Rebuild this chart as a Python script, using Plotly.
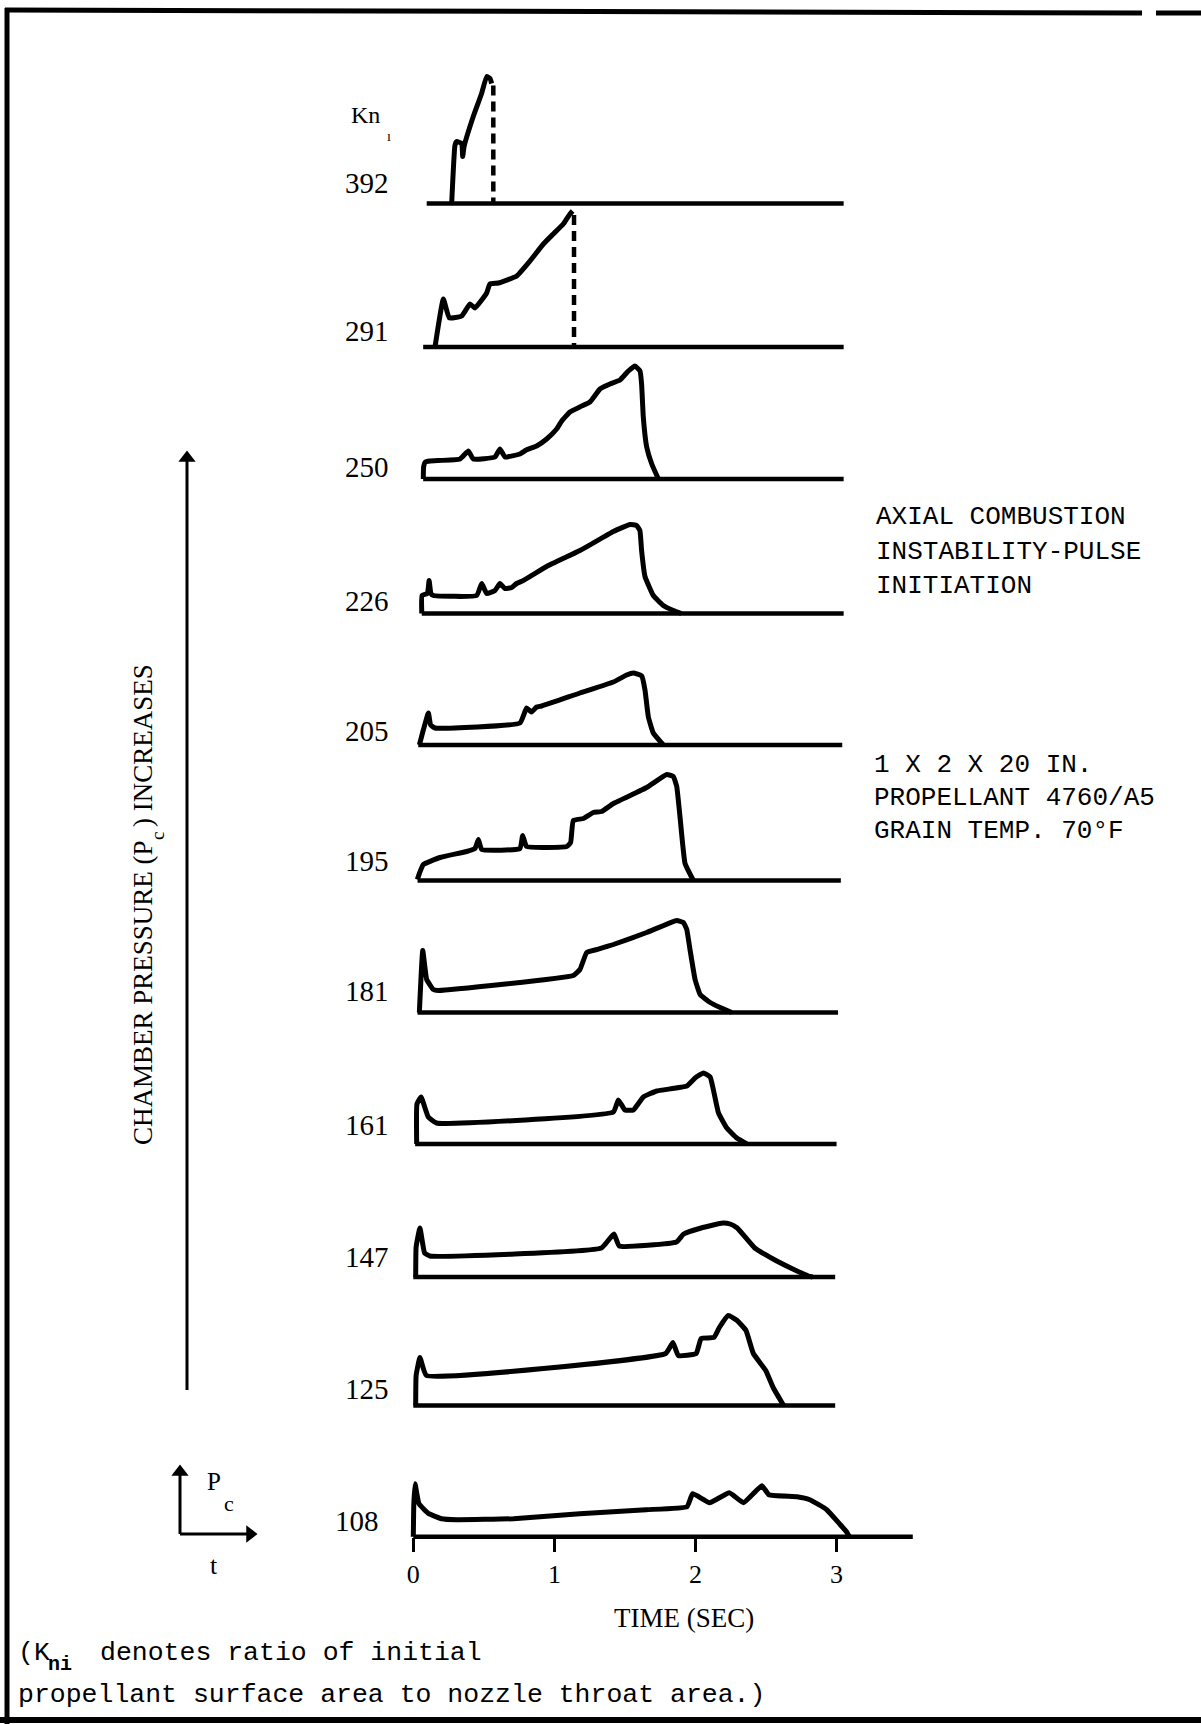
import plotly.graph_objects as go

W, H = 1201, 1724

# ---------------- data ----------------
KN_LABELS = ["392", "291", "250", "226", "205", "195", "181", "161", "147", "125", "108"]

# time (sec) and relative chamber pressure (arbitrary units) for each firing
T_392 = [0.272, 0.295, 0.307, 0.343, 0.35, 0.36, 0.425, 0.484, 0.52, 0.544, 0.555]
P_392 = [0, 58, 62, 60, 47, 57, 87, 110, 127, 125, 120]

T_291 = [0.154, 0.213, 0.255, 0.343, 0.402, 0.437, 0.52, 0.543, 0.603, 0.733, 0.827,
         0.922, 0.992, 1.063, 1.11, 1.129]
P_291 = [0, 48, 29, 31, 43, 39, 54, 63, 64, 71, 86, 103, 113, 123, 133, 136]

T_250 = [0.071, 0.073, 0.085, 0.118, 0.331, 0.39, 0.425, 0.579, 0.614, 0.65, 0.756, 0.80,
         0.874, 0.945, 1.016, 1.052, 1.11, 1.18, 1.252, 1.323, 1.394, 1.465, 1.524, 1.571,
         1.607, 1.618, 1.63, 1.654, 1.69, 1.737]
P_250 = [0, 12, 17, 18, 20, 28, 20, 22, 30, 22, 25, 29, 33, 40, 50, 58, 67, 72, 77, 90, 95,
         99, 108, 113, 108, 95, 62, 32, 15, 0]

T_226 = [0.06, 0.062, 0.10, 0.112, 0.125, 0.142, 0.449, 0.485, 0.52, 0.579, 0.614, 0.65,
         0.697, 0.732, 0.78, 0.945, 1.181, 1.418, 1.536, 1.583, 1.606, 1.618, 1.642, 1.701,
         1.772, 1.843, 1.9]
P_226 = [0, 18, 20, 33, 20, 18, 18, 30, 20, 23, 30, 25, 26, 30, 33, 47, 63, 82, 89, 88, 83,
         63, 37, 18, 8, 3, 0]

T_205 = [0.043, 0.071, 0.107, 0.123, 0.154, 0.756, 0.803, 0.838, 0.874, 0.91, 1.181, 1.418,
         1.512, 1.559, 1.619, 1.642, 1.666, 1.701, 1.772]
P_205 = [0, 15, 32, 20, 17, 22, 37, 33, 38, 39, 52, 63, 70, 72, 69, 55, 28, 12, 0]

T_195 = [0.029, 0.043, 0.071, 0.189, 0.378, 0.437, 0.461, 0.485, 0.756, 0.775, 0.803, 1.087,
         1.115, 1.134, 1.205, 1.276, 1.335, 1.418, 1.654, 1.796, 1.843, 1.867, 1.89, 1.926,
         1.985]
P_195 = [1, 7, 16, 23, 29, 32, 41, 31, 32, 45, 34, 34, 38, 60, 62, 68, 69, 77, 93, 106, 104,
         94, 64, 17, 0]

T_181 = [0.043, 0.067, 0.095, 0.142, 0.177, 1.134, 1.181, 1.229, 1.30, 1.418, 1.654, 1.867,
         1.914, 1.938, 1.961, 1.997, 2.033, 2.104, 2.175, 2.257]
P_181 = [0, 62, 33, 23, 22, 37, 43, 60, 63, 68, 80, 92, 90, 83, 63, 33, 18, 10, 5, 0]

T_161 = [0.024, 0.026, 0.055, 0.106, 0.165, 1.418, 1.453, 1.50, 1.56, 1.63, 1.725, 1.938,
         1.997, 2.056, 2.104, 2.127, 2.163, 2.222, 2.293, 2.364]
P_161 = [0, 40, 47, 27, 21, 32, 44, 34, 34, 47, 53, 58, 66, 71, 67, 54, 31, 16, 6, 0]

T_147 = [0.017, 0.02, 0.047, 0.08, 0.118, 1.333, 1.422, 1.46, 1.865, 1.916, 2.04, 2.194,
         2.245, 2.296, 2.42, 2.55, 2.675, 2.80, 2.83]
P_147 = [0, 30, 49, 24, 21, 29, 43, 31, 35, 43, 49, 54, 53, 49, 29, 18, 9, 1, 0]

T_125 = [0.017, 0.02, 0.047, 0.093, 1.789, 1.84, 1.878, 2.005, 2.04, 2.13, 2.169, 2.232,
         2.295, 2.358, 2.41, 2.498, 2.55, 2.612, 2.625]
P_125 = [0, 30, 48, 30, 52, 63, 50, 52, 67, 68, 78, 90, 85, 75, 52, 35, 18, 3, 0]

T_108 = [0.0, 0.003, 0.012, 0.04, 0.11, 0.20, 0.31, 0.71, 1.18, 1.65, 1.94, 1.98, 2.10,
         2.24, 2.34, 2.47, 2.52, 2.72, 2.81, 2.93, 3.02, 3.07, 3.09]
P_108 = [0, 30, 53, 33, 23, 18, 17, 18, 23, 27, 30, 43, 34, 44, 34, 51, 42, 40, 37, 27, 13,
         5, 0]

TIMES = [T_392, T_291, T_250, T_226, T_205, T_195, T_181, T_161, T_147, T_125, T_108]
PRESS = [P_392, P_291, P_250, P_226, P_205, P_195, P_181, P_161, P_147, P_125, P_108]

# burnout markers (dashed) for the two highest Kn firings
DASH_T = {0: 0.567, 1: 1.139}
DASH_P = {0: 118, 1: 132}

# time extent of each trace's zero line
BASE_START = [0.095, 0.07, 0.07, 0.06, 0.035, 0.03, 0.03, 0.013, 0.0, 0.0, 0.0]
BASE_END = [3.05, 3.05, 3.05, 3.05, 3.04, 3.03, 3.01, 3.0, 2.99, 2.99, 3.54]

TICK_VALS = [0, 1, 2, 3]
TICK_TEXT = ["0", "1", "2", "3"]

# ---------------- layout constants (page pixels) ----------------
BASELINE_PX = [203.5, 347, 479, 613.5, 745, 880.5, 1012.5, 1144, 1277, 1405.5, 1536.7]
LABEL_RISE = [20, 16, 12, 13, 14, 19, 22, 19, 20, 17, 16]
T0_PX, PX_PER_S = 413.3, 141.1
X_MIN, X_MAX = -0.05, 3.6
Y_LO, Y_HI = -8, 142

# decorative key arrows (page pixels): (x0, y0, x1, y1, head symbol)
ARROWS = [
    (187, 1390, 187, 458, "triangle-up"),
    (180, 1534, 180, 1472, "triangle-up"),
    (180, 1534, 250, 1534, "triangle-right"),
]

SERIF = "Liberation Serif, Times New Roman, serif"
MONO = "Liberation Mono, Courier New, monospace"


def px(x):
    return x / W


def py(y):
    return 1 - y / H


def note(text, x, y, family, size, xanchor="left", angle=0):
    return dict(text=text, xref="paper", yref="paper", x=px(x), y=py(y),
                xanchor=xanchor, yanchor="middle", showarrow=False, textangle=angle,
                font=dict(family=family, size=size, color="black"))


fig = go.Figure()
layout = dict(
    width=W, height=H, margin=dict(l=0, r=0, t=0, b=0),
    paper_bgcolor="white", plot_bgcolor="rgba(0,0,0,0)", showlegend=False,
    xaxis=dict(
        domain=[px(T0_PX + X_MIN * PX_PER_S), px(T0_PX + X_MAX * PX_PER_S)],
        range=[X_MIN, X_MAX], anchor="free", position=py(BASELINE_PX[-1]),
        showline=False, showgrid=False, zeroline=False,
        ticks="outside", ticklen=14, tickwidth=3, tickcolor="black",
        tickvals=TICK_VALS, ticktext=TICK_TEXT,
        tickfont=dict(family=SERIF, size=26, color="black"),
    ),
    # page-pixel overlay used for the hand-drawn key arrows
    xaxis2=dict(domain=[0, 1], range=[0, W], visible=False, fixedrange=True, anchor="y12"),
    yaxis12=dict(domain=[0, 1], range=[H, 0], visible=False, fixedrange=True, anchor="x2"),
)

annotations = []
for i in range(11):
    yname = "y" if i == 0 else f"y{i + 1}"
    akey = "yaxis" if i == 0 else f"yaxis{i + 1}"
    b = BASELINE_PX[i]
    layout[akey] = dict(
        domain=[py(b - Y_LO), py(b - Y_HI)], range=[Y_LO, Y_HI],
        anchor="x", visible=False, fixedrange=True,
    )
    fig.add_trace(go.Scatter(
        x=[BASE_START[i], BASE_END[i]], y=[0, 0], yaxis=yname, xaxis="x",
        mode="lines", line=dict(color="black", width=4.5), hoverinfo="skip"))
    fig.add_trace(go.Scatter(
        x=TIMES[i], y=PRESS[i], yaxis=yname, xaxis="x",
        mode="lines", line=dict(color="black", width=5, shape="spline", smoothing=0.35),
        name=KN_LABELS[i]))
    if i in DASH_T:
        fig.add_trace(go.Scatter(
            x=[DASH_T[i], DASH_T[i]], y=[DASH_P[i], 0], yaxis=yname, xaxis="x",
            mode="lines", line=dict(color="black", width=4.5, dash="10px,6px"),
            hoverinfo="skip"))
    annotations.append(dict(
        text=KN_LABELS[i], xref="paper", yref=yname,
        x=px(381 if i == 10 else 391), y=LABEL_RISE[i],
        xanchor="right", yanchor="middle", showarrow=False,
        font=dict(family=SERIF, size=29, color="black")))

for (x0, y0, x1, y1, sym) in ARROWS:
    fig.add_trace(go.Scatter(
        x=[x0, x1], y=[y0, y1], xaxis="x2", yaxis="y12", mode="lines",
        line=dict(color="black", width=3), hoverinfo="skip"))
    fig.add_trace(go.Scatter(
        x=[x1], y=[y1], xaxis="x2", yaxis="y12", mode="markers",
        marker=dict(symbol=sym, size=15, color="black"), hoverinfo="skip"))

# Kn heading
annotations.append(note("Kn", 365, 115, SERIF, 24, "center"))
annotations.append(note("ı", 389, 136, SERIF, 14, "center"))

# axis title
annotations.append(note("TIME (SEC)", 684, 1618, SERIF, 27, "center"))

# vertical title, split around the subscript
annotations.append(note("CHAMBER PRESSURE (P", 143, 993, SERIF, 27, "center", -90))
annotations.append(note("c", 158, 836, SERIF, 19, "center", -90))
annotations.append(note(") INCREASES", 143, 746, SERIF, 27, "center", -90))

# small Pc-t key labels
annotations.append(note("P", 214, 1481, SERIF, 25, "center"))
annotations.append(note("c", 229, 1503, SERIF, 22, "center"))
annotations.append(note("t", 214, 1565, SERIF, 26, "center"))

# right-hand notes
annotations.append(note("AXIAL COMBUSTION", 874, 517, MONO, 26))
annotations.append(note("INSTABILITY-PULSE", 874, 552, MONO, 26))
annotations.append(note("INITIATION", 874, 586, MONO, 26))
annotations.append(note("1 X 2 X 20 IN.", 872, 765, MONO, 26))
annotations.append(note("PROPELLANT 4760/A5", 872, 798, MONO, 26))
annotations.append(note("GRAIN TEMP. 70°F", 872, 831, MONO, 26))

# footnote
annotations.append(note("(K", 16, 1653, MONO, 26.5))
annotations.append(note("<b>ni</b>", 46, 1664, MONO, 20))
annotations.append(note("denotes ratio of initial", 98, 1653, MONO, 26.5))
annotations.append(note("propellant surface area to nozzle throat area.)", 16, 1695, MONO, 26.5))

layout["annotations"] = annotations

# page frame
layout["shapes"] = [
    dict(type="line", xref="paper", yref="paper", x0=px(5), x1=px(1142), y0=py(10), y1=py(13),
         line=dict(color="black", width=5)),
    dict(type="line", xref="paper", yref="paper", x0=px(1156), x1=1, y0=py(13), y1=py(13),
         line=dict(color="black", width=5)),
    dict(type="line", xref="paper", yref="paper", x0=px(7), x1=px(7), y0=py(8), y1=0,
         line=dict(color="black", width=5)),
    dict(type="line", xref="paper", yref="paper", x0=0, x1=1, y0=py(1720), y1=py(1720),
         line=dict(color="black", width=6)),
]

fig.update_layout(**layout)
fig.write_html("out.html")
